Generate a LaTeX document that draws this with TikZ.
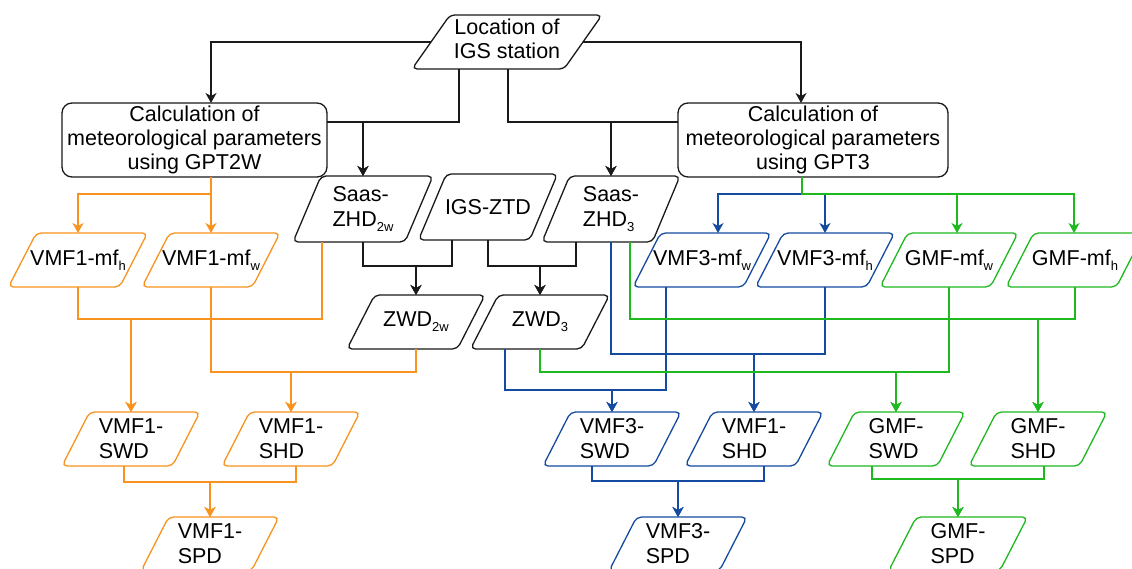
\documentclass[tikz,border=0pt]{standalone}
\usepackage{fontspec}
\setmainfont{Liberation Sans}
\usetikzlibrary{calc,arrows.meta}
\definecolor{cor}{HTML}{F7931E}
\definecolor{cbl}{HTML}{144BA0}
\definecolor{cgr}{HTML}{1EB91E}
\definecolor{cbk}{HTML}{1A1A1A}
\newcommand{\lowtxt}[1]{\raisebox{-5pt}{\fontsize{13}{13}\selectfont #1}}
\newcommand{\pnode}[7]{%
  \node[txt, minimum width=#4pt, minimum height=#5pt] (#1) at (#2,#3) {#7};
  \draw[#6, line width=1.3pt, rounded corners=5pt]
    (#1.south) -- (#1.south west) -- ($(#1.north west)+(0.2*#4,0)$)
    -- (#1.north east) -- ($(#1.south east)-(0.2*#4,0)$) -- cycle;
}
\tikzset{
  txt/.style={inner sep=0pt, outer sep=0pt, align=left, text=black,
    font=\fontsize{21.5}{25}\selectfont},
  rbox/.style={txt, draw=cbk, line width=1.3pt, rounded corners=10pt, align=center,
    font=\fontsize{21.5}{24}\selectfont},
  conn/.style={line width=1.3pt, -{Stealth[length=10pt,width=11pt,inset=3pt]}},
  blk/.style={conn, cbk},
  ora/.style={conn, cor},
  blu/.style={conn, cbl},
  grn/.style={conn, cgr},
}
\begin{document}
\begin{tikzpicture}[x=1pt, y=-1pt]
\clip (0,0) rectangle (1132,569);
\fill[white] (0,0) rectangle (1132,569);

% top
\pnode{loc}{507}{42}{190}{54}{cbk}{\begin{tabular}{@{}c@{}}Location of\\[-1pt]IGS station\end{tabular}}
\node[rbox, minimum width=265pt, minimum height=74pt] (gpt2w) at (194.5,140)
  {Calculation of\\meteorological parameters\\using GPT2W};
\node[rbox, minimum width=270pt, minimum height=74pt] (gpt3) at (813,140)
  {Calculation of\\meteorological parameters\\using GPT3};

% second row
\pnode{saas2w}{363}{209}{140}{66}{cbk}{Saas-\\ZHD\lowtxt{2w}}
\pnode{igs}{488}{207}{139}{66}{cbk}{IGS-ZTD}
\pnode{saas3}{611}{209}{138}{66}{cbk}{Saas-\\ZHD\lowtxt{3}}
\pnode{zwd2w}{416}{322}{138}{54}{cbk}{ZWD\lowtxt{2w}}
\pnode{zwd3}{540}{322}{139}{54}{cbk}{ZWD\lowtxt{3}}

% mapping functions
\pnode{vmf1h}{78}{260}{139}{54}{cor}{VMF1-mf\lowtxt{h}}
\pnode{vmf1w}{211}{260}{138}{54}{cor}{VMF1-mf\lowtxt{w}}
\pnode{vmf3w}{702}{260}{138}{54}{cbl}{VMF3-mf\lowtxt{w}}
\pnode{vmf3h}{825}{260}{139}{54}{cbl}{VMF3-mf\lowtxt{h}}
\pnode{gmfw}{949}{260}{138}{54}{cgr}{GMF-mf\lowtxt{w}}
\pnode{gmfh}{1075}{260}{138}{54}{cgr}{GMF-mf\lowtxt{h}}

% slant delays
\pnode{vmf1swd}{131}{439}{138}{54}{cor}{VMF1-\\SWD}
\pnode{vmf1shd}{291}{439}{138}{54}{cor}{VMF1-\\SHD}
\pnode{vmf3swd}{612}{439}{138}{54}{cbl}{VMF3-\\SWD}
\pnode{vmf1shdb}{754}{439}{138}{54}{cbl}{VMF1-\\SHD}
\pnode{gmfswd}{896}{439}{138}{54}{cgr}{GMF-\\SWD}
\pnode{gmfshd}{1038}{439}{138}{54}{cgr}{GMF-\\SHD}

% slant path delays
\pnode{vmf1spd}{210}{544}{138}{54}{cor}{VMF1-\\SPD}
\pnode{vmf3spd}{678}{544}{138}{54}{cbl}{VMF3-\\SPD}
\pnode{gmfspd}{958}{544}{139}{54}{cgr}{GMF-\\SPD}

% black connectors
\draw[blk] ([xshift=19pt]loc.west) -| ([xshift=16.5pt]gpt2w.north);
\draw[blk] ([xshift=-19pt]loc.east) -| ([xshift=-12pt]gpt3.north);
\draw[blk] ([xshift=-48pt]loc.south) -- ++(0,53) -| (saas2w.north);
\draw[blk] ([yshift=18pt]gpt2w.east) -| (saas2w.north);
\draw[blk] ([xshift=1pt]loc.south) -- ++(0,53) -| (saas3.north);
\draw[blk] ([yshift=18pt]gpt3.west) -| (saas3.north);
\draw[blk] (saas2w.south) -- ++(0,24) -| (zwd2w.north);
\draw[blk] ([xshift=-36pt]igs.south) -- ++(0,26) -| (zwd2w.north);
\draw[blk] (igs.south) -- ++(0,26) -| (zwd3.north);
\draw[blk] ([xshift=-35pt]saas3.south) -- ++(0,24) -| (zwd3.north);

% orange connectors
\draw[ora] ([xshift=16.5pt]gpt2w.south) -- ++(0,17) -| (vmf1h.north);
\draw[ora] ([xshift=16.5pt]gpt2w.south) -- (vmf1w.north);
\draw[ora] (vmf1h.south) -- ++(0,32) -| (vmf1swd.north);
\draw[ora] ([xshift=-41pt]saas2w.south) -- ++(0,77) -| (vmf1swd.north);
\draw[ora] (vmf1w.south) -- ++(0,85) -| (vmf1shd.north);
\draw[ora] (zwd2w.south) -- ++(0,23) -| (vmf1shd.north);
\draw[ora] ([xshift=-7pt]vmf1swd.south) -- ++(0,16) -| (vmf1spd.north);
\draw[ora] ([xshift=5pt]vmf1shd.south) -- ++(0,16) -| (vmf1spd.north);

% blue connectors
\draw[blu] ([xshift=-11pt]gpt3.south) -- ++(0,17) -| ([xshift=16pt]vmf3w.north);
\draw[blu] ([xshift=-11pt]gpt3.south) -- ++(0,17) -| (vmf3h.north);
\draw[blu] ([xshift=-35pt]zwd3.south) -- ++(0,41) -| (vmf3swd.north);
\draw[blu] ([xshift=-36pt]vmf3w.south) -- ++(0,103) -| (vmf3swd.north);
\draw[blu] (saas3.south) -- ++(0,112) -| (vmf1shdb.north);
\draw[blu] (vmf3h.south) -- ++(0,67) -| (vmf1shdb.north);
\draw[blu] ([xshift=-20pt]vmf3swd.south) -- ++(0,15) -| (vmf3spd.north);
\draw[blu] ([xshift=10pt]vmf1shdb.south) -- ++(0,15) -| (vmf3spd.north);

% green connectors
\draw[grn] ([xshift=-11pt]gpt3.south) -- ++(0,17) -| ([xshift=8pt]gmfw.north);
\draw[grn] ([xshift=-11pt]gpt3.south) -- ++(0,17) -| ([xshift=-1pt]gmfh.north);
\draw[grn] ([xshift=19pt]saas3.south) -- ++(0,77) -| (gmfshd.north);
\draw[grn] (gmfh.south) -- ++(0,32) -| (gmfshd.north);
\draw[grn] (zwd3.south) -- ++(0,23) -| (gmfswd.north);
\draw[grn] (gmfw.south) -- ++(0,85) -| (gmfswd.north);
\draw[grn] ([xshift=-24pt]gmfswd.south) -- ++(0,13) -| (gmfspd.north);
\draw[grn] ([xshift=6pt]gmfshd.south) -- ++(0,13) -| (gmfspd.north);
\end{tikzpicture}
\end{document}
